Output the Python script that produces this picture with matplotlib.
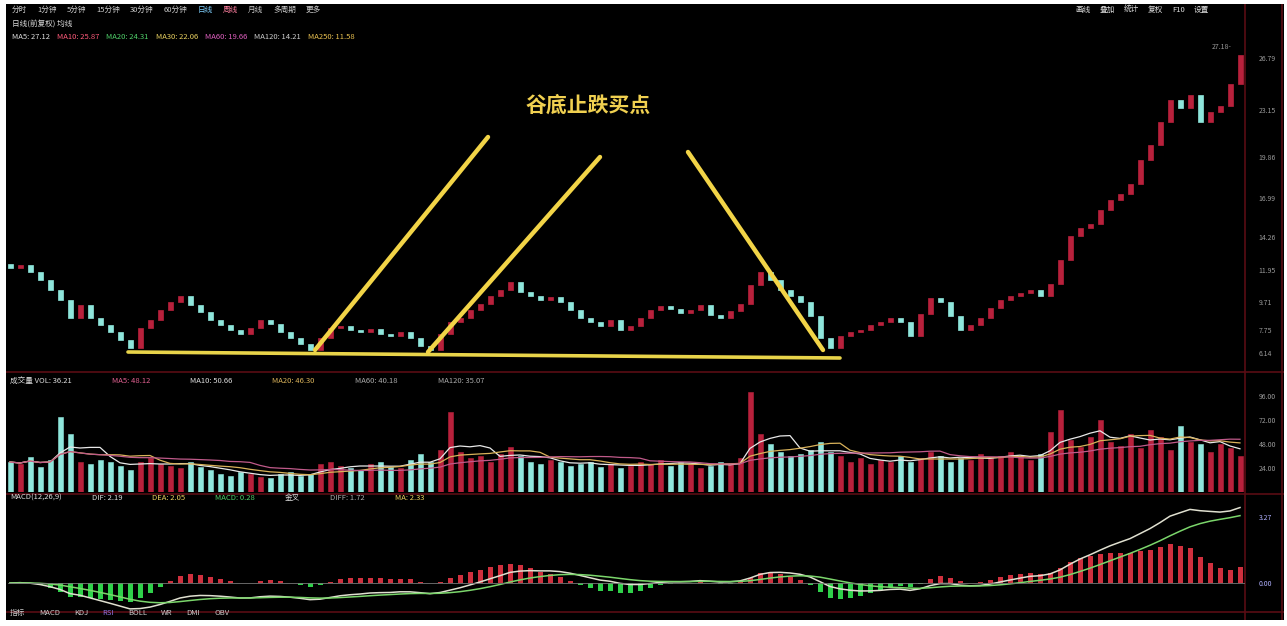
import numpy as np
import pandas as pd
import matplotlib
matplotlib.use('Agg')
import matplotlib.pyplot as plt

plt.rcParams['font.family'] = ['Noto Sans CJK SC', 'DejaVu Sans']

# daily closes (one candle every ~10 px)
closes = [12.09, 12.30, 11.81, 11.25, 10.55, 9.85, 8.59, 9.50, 8.59, 8.10,
          7.61, 7.05, 6.49, 7.89, 8.45, 9.15, 9.71, 10.13, 9.50, 9.01,
          8.45, 8.10, 7.75, 7.47, 7.89, 8.45, 8.17, 7.61, 7.19, 6.77,
          6.35, 7.19, 7.89, 8.03, 7.75, 7.61, 7.82, 7.47, 7.33, 7.61,
          7.19, 6.63, 6.35, 7.47, 8.31, 8.59, 9.15, 9.57, 10.13, 10.55,
          11.11, 10.41, 10.13, 9.85, 10.06, 9.71, 9.15, 8.59, 8.31, 8.03,
          8.45, 7.75, 8.03, 8.59, 9.15, 9.43, 9.22, 8.94, 9.15, 9.50,
          8.80, 8.59, 9.08, 9.57, 10.90, 11.81, 11.25, 10.55, 10.13, 9.71,
          8.73, 7.19, 6.49, 7.33, 7.61, 7.75, 8.10, 8.31, 8.59, 8.31,
          7.33, 8.87, 9.99, 9.71, 8.73, 7.75, 8.10, 8.59, 9.29, 9.85,
          10.13, 10.34, 10.55, 10.13, 10.97, 12.65, 14.33, 14.89, 15.17, 16.15,
          16.85, 17.27, 17.97, 19.65, 20.70, 22.31, 23.85, 23.29, 24.20, 22.31,
          23.00, 23.43, 24.97, 27.00]
first_open = 12.40

volumes = [30, 28, 35, 25, 32, 75, 58, 30, 28, 32,
           30, 26, 22, 30, 34, 28, 26, 24, 30, 25,
           22, 18, 16, 20, 18, 15, 14, 18, 20, 16,
           18, 28, 30, 26, 24, 22, 28, 30, 25, 24,
           32, 38, 30, 42, 80, 40, 34, 36, 30, 38,
           45, 36, 30, 28, 32, 30, 26, 28, 30, 25,
           28, 24, 26, 30, 28, 32, 26, 30, 28, 24,
           26, 30, 28, 34, 100, 58, 48, 40, 36, 38,
           42, 50, 40, 36, 30, 34, 28, 32, 30, 36,
           30, 34, 40, 36, 30, 34, 32, 38, 34, 36,
           40, 36, 32, 38, 60, 82, 52, 45, 55, 72,
           50, 46, 58, 44, 62, 55, 42, 66, 50, 48,
           40, 48, 44, 36]

price_ticks = [26.79, 23.15, 19.86, 16.99, 14.26, 11.95, 9.71, 7.75, 6.14]
vol_ticks = [24, 48, 72, 96]
vol_tick_labels = ['24.00', '48.00', '72.00', '96.00']

# annotation lines (candle index, price)
support_line = [(11.8, 6.21), (83.0, 5.79)]
arrow_lines = [[(30.5, 6.35), (47.8, 21.26)],
               [(41.8, 6.21), (59.0, 19.86)],
               [(67.8, 20.21), (81.3, 6.35)]]
title_text = '谷底止跌买点'

UP = '#b8213c'
DOWN = '#8fe6dc'
GRID = '#5a0d14'

closes = np.array(closes)
opens = np.r_[first_open, closes[:-1]]
idx = np.arange(len(closes))
up = closes >= opens
colors = np.where(up, UP, DOWN)

W, H = 1287, 626
fig = plt.figure(figsize=(W / 100, H / 100), dpi=100, facecolor='white')
renderer = fig.canvas.get_renderer()

def px_axes(x0, y0, x1, y1):
    return fig.add_axes([x0 / W, 1 - y1 / H, (x1 - x0) / W, (y1 - y0) / H])

bg = px_axes(6, 4, 1284, 620)
bg.set_facecolor('black')
bg.set_xticks([]); bg.set_yticks([])
for s in bg.spines.values():
    s.set_visible(False)
bg.set_xlim(0, 1); bg.set_ylim(0, 1)
# separators and right scale border
for yy in [372, 494, 612]:
    bg.axhline(1 - (yy - 4) / 616, color=GRID, lw=1.2)
for xx in [1245, 1282]:
    bg.axvline((xx - 6) / 1278, color=GRID, lw=1.2)

xlim = (-0.2, 123.5)

# ---- price panel
ax = px_axes(8, 40, 1245, 372)
ax.set_facecolor('none')
body = np.abs(closes - opens)
body = np.maximum(body, 0.06)
ax.bar(idx, body, bottom=np.minimum(opens, closes), width=0.5,
       color=colors, edgecolor=colors, lw=0.5)
ax.set_xlim(*xlim)
ax.set_ylim(4.81, 28.05)
for s in ax.spines.values():
    s.set_visible(False)
ax.set_xticks([])
ax.yaxis.tick_right()
ax.set_yticks(price_ticks)
ax.set_yticklabels([f'{t:.2f}' for t in price_ticks], color='#9a9a9a', fontsize=5)
ax.tick_params(axis='y', length=0, pad=10)

(sx0, sy0), (sx1, sy1) = support_line
ax.plot([sx0, sx1], [sy0, sy1], color='#e8d44a', lw=2.6, solid_capstyle='round')
for (x0, y0), (x1, y1) in arrow_lines:
    ax.plot([x0, x1], [y0, y1], color='#f2d447', lw=3.2, solid_capstyle='round')
ax.text(57.8, 23.5, title_text, color='#f0d050', fontsize=15, fontweight='bold',
        ha='center', va='center')
peak = int(np.argmax(closes))
ax.text(peak - 0.8, closes[peak] + 0.3, f'{closes[peak] + 0.18:.2f}-', color='#9a9a9a',
        fontsize=5, ha='right', va='bottom')

# ---- volume panel
axv = px_axes(8, 385, 1245, 492)
axv.set_facecolor('none')
axv.bar(idx, volumes, width=0.5, color=colors, edgecolor=colors, lw=0.4)
vs = pd.Series(volumes, dtype=float)
axv.plot(idx, vs.rolling(5, min_periods=1).mean(), color='#e8e8e8', lw=0.9)
axv.plot(idx, vs.rolling(10, min_periods=1).mean(), color='#d9b25a', lw=0.9)
axv.plot(idx, vs.rolling(20, min_periods=1).mean(), color='#c05a8a', lw=0.9)
axv.set_xlim(*xlim)
axv.set_ylim(0, 107)
for s in axv.spines.values():
    s.set_visible(False)
axv.set_xticks([])
axv.yaxis.tick_right()
axv.set_yticks(vol_ticks)
axv.set_yticklabels(vol_tick_labels, color='#9a9a9a', fontsize=5)
axv.tick_params(axis='y', length=0, pad=10)

# ---- MACD panel
cs = pd.Series(closes)
dif = cs.ewm(span=12, adjust=False).mean() - cs.ewm(span=26, adjust=False).mean()
dea = dif.ewm(span=9, adjust=False).mean()
hist = 2 * (dif - dea)
axm = px_axes(8, 500, 1245, 612)
axm.set_facecolor('none')
axm.bar(idx, hist, width=0.5, color=np.where(hist >= 0, '#d0303e', '#2fd04a'), lw=0)
axm.plot(idx, dif, color='#e0e0d0', lw=1.1)
axm.plot(idx, dea, color='#7bd66b', lw=1.1)
axm.axhline(0, color='#777777', lw=0.6)
top = max(dif.max(), dea.max(), hist.max()) * 1.1
axm.set_ylim(-top * 29 / 83, top)
axm.set_xlim(*xlim)
for s in axm.spines.values():
    s.set_visible(False)
axm.set_xticks([])
axm.yaxis.tick_right()
axm.set_yticks([top * 0.8, 0])
axm.set_yticklabels([f'{top * 0.8:.2f}', '0.00'], color='#b0b0ff', fontsize=5)
axm.tick_params(axis='y', length=0, pad=10)

# ---- header / label rows
def row(y, x, items, fs=5.5, gap=7):
    for txt, col in items:
        t = bg.text((x - 6) / 1278, 1 - (y - 4) / 616, txt, color=col, fontsize=fs,
                    va='center', ha='left')
        x += t.get_window_extent(renderer=renderer).width + gap

row(10, 12, [('分时', '#cccccc'), ('1分钟', '#cccccc'), ('5分钟', '#cccccc'),
             ('15分钟', '#cccccc'), ('30分钟', '#cccccc'), ('60分钟', '#cccccc'),
             ('日线', '#7fd0ff'), ('周线', '#ff7f9f'), ('月线', '#cccccc'),
             ('多周期', '#cccccc'), ('更多', '#cccccc')], gap=10)
row(10, 1075, [('画线', '#dddddd'), ('叠加', '#dddddd'), ('统计', '#dddddd'),
               ('复权', '#dddddd'), ('F10', '#dddddd'), ('设置', '#dddddd')], gap=9)
row(24, 12, [('日线(前复权) 均线', '#dddddd')])
row(37, 12, [('MA5: 27.12', '#dddddd'), ('MA10: 25.87', '#ff5a7a'),
             ('MA20: 24.31', '#4fd06a'), ('MA30: 22.06', '#e8d060'),
             ('MA60: 19.66', '#e060c0'), ('MA120: 14.21', '#cccccc'),
             ('MA250: 11.58', '#e8c050')])
row(381, 10, [('成交量 VOL: 36.21', '#dddddd'), ('MA5: 48.12', '#e06090'),
              ('MA10: 50.66', '#dddddd'), ('MA20: 46.30', '#d9b25a'),
              ('MA60: 40.18', '#aaaaaa'), ('MA120: 35.07', '#aaaaaa')], gap=40)
row(498, 10, [('MACD(12,26,9)', '#dddddd'), ('DIF: 2.19', '#dddddd'),
              ('DEA: 2.05', '#e8d060'), ('MACD: 0.28', '#4fd06a'),
              ('金叉', '#dddddd'), ('DIFF: 1.72', '#aaaaaa'), ('MA: 2.33', '#e8d060')], gap=30)
row(613, 10, [('指标', '#cccccc'), ('MACD', '#cccccc'), ('KDJ', '#cccccc'),
              ('RSI', '#9070e0'), ('BOLL', '#cccccc'), ('WR', '#cccccc'),
              ('DMI', '#cccccc'), ('OBV', '#cccccc')], gap=14)

fig.savefig('out.png', dpi=100, facecolor=fig.get_facecolor())
